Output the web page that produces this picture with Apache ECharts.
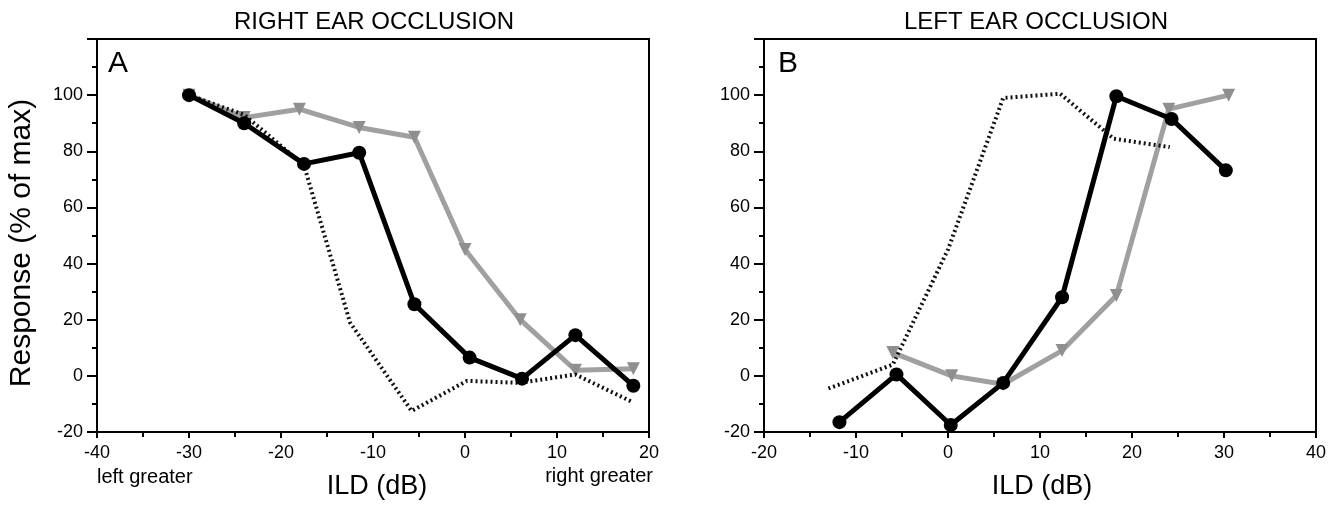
<!DOCTYPE html>
<html>
<head>
<meta charset="utf-8">
<script src="https://cdn.jsdelivr.net/npm/echarts@6/dist/echarts.min.js"></script>
<style>
  html, body { margin: 0; padding: 0; background: #fff; }
  #chart { width: 1337px; height: 505px; }
</style>
</head>
<body>
<div id="chart"></div>
<script>
// Panel A: right ear occlusion
const aBlackX = [-30, -24, -17.5, -11.5, -5.5, 0.5, 6.2, 12, 18.3];
const aBlackY = [100, 90, 75.5, 79.5, 25.5, 6.5, -1, 14.5, -3.5];
const aGrayX = [-30, -24, -18, -11.5, -5.5, 0, 6, 12, 18.3];
const aGrayY = [100, 92, 95, 88.5, 85, 45, 20, 2, 2.5];
const aHatchX = [-30, -24, -17.5, -12.5, -5.8, 0.2, 6, 12, 18.3];
const aHatchY = [100, 93, 75, 19, -12.5, -1.8, -2.5, 0.5, -9.5];

// Panel B: left ear occlusion
const bBlackX = [-11.8, -5.6, 0.3, 6, 12.4, 18.3, 24.3, 30.2];
const bBlackY = [-16.5, 0.5, -17.5, -2.5, 28, 99.6, 91.5, 73.2];
const bGrayX = [-6, 0.4, 6, 12.4, 18.3, 24, 30.5];
const bGrayY = [8.3, 0, -3, 9, 28.6, 95, 100];
const bHatchX = [-13, -6, 0, 6, 12.2, 18, 24.1];
const bHatchY = [-4.5, 4, 45, 99, 100.5, 84.5, 81.5];

const yTicks = [-20, 0, 20, 40, 60, 80, 100];

const pairs = (xs, ys) => xs.map((x, i) => [x, ys[i]]);

const chart = echarts.init(document.getElementById("chart"));

const font = "'Liberation Sans', Arial, sans-serif";

function xAxisFor(gridIndex, min, max) {
  return {
    gridIndex: gridIndex,
    type: "value",
    min: min,
    max: max,
    interval: 10,
    axisLine: { show: true, onZero: false, lineStyle: { color: "#000", width: 2 } },
    axisTick: { show: true, length: 6, lineStyle: { color: "#000", width: 2 } },
    minorTick: { show: true, splitNumber: 2, length: 5, lineStyle: { color: "#000", width: 2 } },
    splitLine: { show: false },
    axisLabel: { color: "#000", fontSize: 18, fontFamily: font, margin: 12 },
  };
}

function yAxisFor(gridIndex) {
  return {
    gridIndex: gridIndex,
    type: "value",
    min: -20,
    max: 120,
    interval: 20,
    axisLine: { show: true, onZero: false, lineStyle: { color: "#000", width: 2 } },
    axisTick: { show: true, length: 10, lineStyle: { color: "#000", width: 2 } },
    minorTick: { show: true, splitNumber: 2, length: 5, lineStyle: { color: "#000", width: 2 } },
    splitLine: { show: false },
    axisLabel: {
      color: "#000",
      fontSize: 18,
      fontFamily: font,
      margin: 14,
      formatter: (v) => (yTicks.includes(v) ? String(v) : ""),
    },
  };
}

function blackSeries(idx, data) {
  return {
    type: "line",
    xAxisIndex: idx,
    yAxisIndex: idx,
    data: data,
    symbol: "circle",
    symbolSize: 14,
    itemStyle: { color: "#000" },
    lineStyle: { color: "#000", width: 5 },
    z: 5,
  };
}

function graySeries(idx, data) {
  return {
    type: "line",
    xAxisIndex: idx,
    yAxisIndex: idx,
    data: data,
    symbol: "triangle",
    symbolRotate: 180,
    symbolSize: 13,
    itemStyle: { color: "#8f8f8f" },
    lineStyle: { color: "#a0a0a0", width: 5 },
    z: 3,
  };
}

function hatchSeries(idx, data) {
  return {
    type: "line",
    xAxisIndex: idx,
    yAxisIndex: idx,
    data: data,
    symbol: "none",
    lineStyle: { color: "#111", width: 4, type: [2, 3] },
    z: 4,
  };
}

const option = {
  animation: false,
  backgroundColor: "#fff",
  grid: [
    { left: 97, top: 39, width: 552, height: 393, show: true, borderColor: "#000", borderWidth: 2 },
    { left: 764, top: 39, width: 552, height: 393, show: true, borderColor: "#000", borderWidth: 2 },
  ],
  xAxis: [xAxisFor(0, -40, 20), xAxisFor(1, -20, 40)],
  yAxis: [yAxisFor(0), yAxisFor(1)],
  series: [
    graySeries(0, pairs(aGrayX, aGrayY)),
    hatchSeries(0, pairs(aHatchX, aHatchY)),
    blackSeries(0, pairs(aBlackX, aBlackY)),
    graySeries(1, pairs(bGrayX, bGrayY)),
    hatchSeries(1, pairs(bHatchX, bHatchY)),
    blackSeries(1, pairs(bBlackX, bBlackY)),
  ],
  graphic: [
    { type: "text", x: 374, y: 22, style: { text: "RIGHT EAR OCCLUSION", fontSize: 24, fontFamily: font, fill: "#000", align: "center", verticalAlign: "middle" } },
    { type: "text", x: 1036, y: 22, style: { text: "LEFT EAR OCCLUSION", fontSize: 24, fontFamily: font, fill: "#000", align: "center", verticalAlign: "middle" } },
    { type: "text", x: 118, y: 64, style: { text: "A", fontSize: 30, fontFamily: font, fill: "#000", align: "center", verticalAlign: "middle" } },
    { type: "text", x: 788, y: 64, style: { text: "B", fontSize: 30, fontFamily: font, fill: "#000", align: "center", verticalAlign: "middle" } },
    {
      type: "text",
      x: 22,
      y: 243,
      rotation: Math.PI / 2,
      style: { text: "Response (% of max)", fontSize: 30, fontFamily: font, fill: "#000", align: "center", verticalAlign: "middle" },
    },
    { type: "text", x: 377, y: 487, style: { text: "ILD (dB)", fontSize: 27, fontFamily: font, fill: "#000", align: "center", verticalAlign: "middle" } },
    { type: "text", x: 1042, y: 487, style: { text: "ILD (dB)", fontSize: 27, fontFamily: font, fill: "#000", align: "center", verticalAlign: "middle" } },
    { type: "text", x: 97, y: 477, style: { text: "left greater", fontSize: 20, fontFamily: font, fill: "#000", align: "left", verticalAlign: "middle" } },
    { type: "text", x: 653, y: 476, style: { text: "right greater", fontSize: 20, fontFamily: font, fill: "#000", align: "right", verticalAlign: "middle" } },
  ],
};

chart.setOption(option);
</script>
</body>
</html>
